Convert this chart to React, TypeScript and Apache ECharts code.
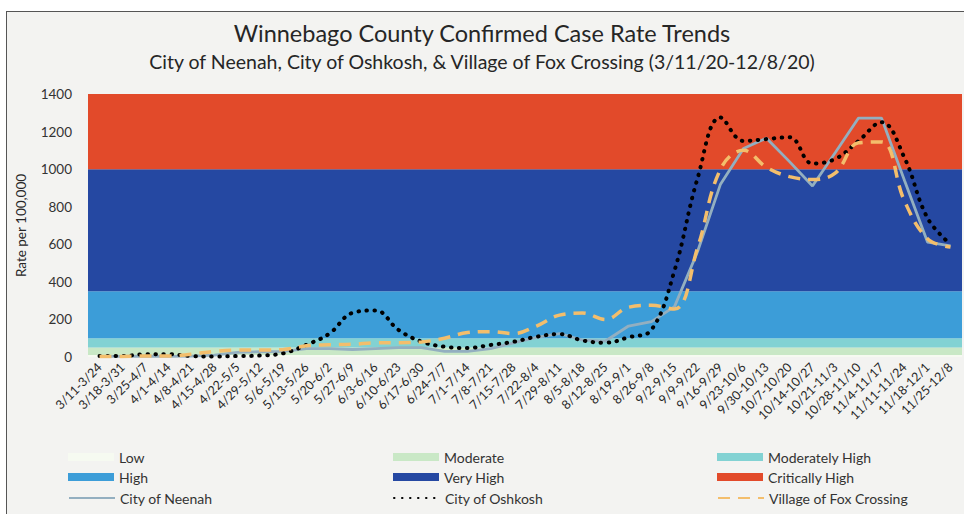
import React, { useEffect, useRef } from "react";
import * as echarts from "echarts";

const categories = [
  "3/11-3/24", "3/18-3/31", "3/25-4/7", "4/1-4/14", "4/8-4/21", "4/15-4/28",
  "4/22-5/5", "4/29-5/12", "5/6-5/19", "5/13-5/26", "5/20-6/2", "5/27-6/9",
  "6/3-6/16", "6/10-6/23", "6/17-6/30", "6/24-7/7", "7/1-7/14", "7/8-7/21",
  "7/15-7/28", "7/22-8/4", "7/29-8/11", "8/5-8/18", "8/12-8/25", "8/19-9/1",
  "8/26-9/8", "9/2-9/15", "9/9-9/22", "9/16-9/29", "9/23-10/6", "9/30-10/13",
  "10/7-10/20", "10/14-10/27", "10/21-11/3", "10/28-11/10", "11/4-11/17",
  "11/11-11/24", "11/18-12/1", "11/25-12/8",
];

const neenah = [
  3, 3, 5, 3, 5, 10, 25, 28, 30, 45, 45, 40, 45, 50, 50, 30, 30, 45, 75, 105,
  125, 90, 85, 165, 188, 268, 560, 920, 1110, 1165, 1040, 910, 1090, 1272, 1272,
  940, 612, 591,
];

const oshkosh = [
  5, 5, 15, 15, 5, 3, 5, 8, 20, 65, 125, 235, 248, 144, 82, 55, 48, 64, 81, 108,
  122, 88, 76, 105, 145, 460, 950, 1275, 1150, 1160, 1170, 1030, 1055, 1150, 1250,
  1060, 740, 600,
];

const foxCrossing = [
  3, 3, 5, 5, 15, 30, 37, 37, 40, 60, 65, 68, 75, 76, 80, 100, 130, 135, 125, 165,
  223, 234, 200, 265, 275, 255, 580, 1000, 1100, 1010, 960, 945, 980, 1140, 1145,
  830, 630, 585,
];

const bandNames = ["Low", "Moderate", "Moderately High", "High", "Very High", "Critically High"];
const bandFrom = [0, 10, 50, 100, 350, 1000];
const bandTo = [10, 50, 100, 350, 1000, 1400];
const bandColors = ["#F6FAF1", "#C9E8C6", "#82D2D3", "#3C9DD8", "#2548A2", "#E24A2A"];

const yTicks = [0, 200, 400, 600, 800, 1000, 1200, 1400];

const FONT = "Lato, 'Open Sans', sans-serif";

export default function App() {
  const ref = useRef<HTMLDivElement>(null);

  useEffect(() => {
    if (!ref.current) return;
    const chart = echarts.init(ref.current, undefined, { renderer: "svg" });

    const legendCols = [68, 393, 717];
    const legendRows = [450, 470, 491];
    const legendNames = [
      "Low", "Moderate", "Moderately High",
      "High", "Very High", "Critically High",
      "City of Neenah", "City of Oshkosh", "Village of Fox Crossing",
    ];
    const legends = legendNames.map((name, i) => {
      const lg: any = {
        data: i < 6 ? [{ name, icon: "rect" }] : [name],
        left: legendCols[i % 3],
        top: legendRows[Math.floor(i / 3)],
        itemWidth: 46,
        itemHeight: 8,
        padding: 0,
        selectedMode: false,
        textStyle: { fontSize: 14, color: "#333", fontFamily: FONT },
      };
      if (i >= 6) lg.itemStyle = { opacity: 0 };
      return lg;
    });

    const bandSeries = bandNames.map((name, i) => ({
      name,
      type: "bar",
      data: [],
      itemStyle: { color: bandColors[i] },
    }));

    chart.setOption({
      animation: false,
      textStyle: { fontFamily: FONT },
      title: [
        {
          text: "Winnebago County Confirmed Case Rate Trends",
          left: "center",
          top: 16,
          textStyle: { fontSize: 23.5, fontWeight: "normal", color: "#262626", fontFamily: FONT },
        },
        {
          text: "City of Neenah, City of Oshkosh, & Village of Fox Crossing (3/11/20-12/8/20)",
          left: "center",
          top: 46,
          textStyle: { fontSize: 19.5, fontWeight: "normal", color: "#262626", fontFamily: FONT },
        },
      ],
      legend: legends,
      grid: { left: 88, right: 2, top: 94, bottom: 157 },
      xAxis: {
        type: "category",
        data: categories,
        boundaryGap: true,
        axisLine: { show: false },
        axisTick: { show: false },
        axisLabel: {
          interval: 0,
          rotate: 45,
          fontSize: 12.5,
          color: "#262626",
          margin: 8,
          fontFamily: FONT,
        },
      },
      yAxis: {
        type: "value",
        min: 0,
        max: 1400,
        interval: 200,
        name: "Rate per 100,000",
        nameLocation: "middle",
        nameGap: 60,
        nameTextStyle: { fontSize: 13.5, color: "#262626", fontFamily: FONT },
        axisLine: { show: false },
        axisTick: { show: false },
        splitLine: { show: false },
        axisLabel: {
          fontSize: 13.5,
          color: "#333",
          margin: 16,
          fontFamily: FONT,
          formatter: (v: number) => (yTicks.includes(v) ? String(v) : ""),
        },
      },
      series: [
        ...bandSeries,
        {
          name: "bands",
          type: "line",
          data: categories.map(() => null),
          symbol: "none",
          z: 1,
          silent: true,
          markArea: {
            silent: true,
            data: bandNames.map((_, i) => [
              { yAxis: bandFrom[i], itemStyle: { color: bandColors[i] } },
              { yAxis: bandTo[i] },
            ]),
          },
        },
        {
          name: "City of Neenah",
          type: "line",
          data: neenah,
          symbol: "none",
          z: 3,
          itemStyle: { color: "#93AFC0" },
          lineStyle: { color: "#93AFC0", width: 2.8 },
        },
        {
          name: "City of Oshkosh",
          type: "line",
          data: oshkosh,
          symbol: "none",
          smooth: 0.4,
          z: 4,
          itemStyle: { color: "#000" },
          lineStyle: { color: "#000", width: 4, type: [0.5, 7.5], cap: "round" },
        },
        {
          name: "Village of Fox Crossing",
          type: "line",
          data: foxCrossing,
          symbol: "none",
          smooth: 0.4,
          z: 5,
          itemStyle: { color: "#F3BE6C" },
          lineStyle: { color: "#F3BE6C", width: 3.5, type: [12, 8] },
        },
      ],
    });

    return () => chart.dispose();
  }, []);

  return (
    <div style={{ position: "fixed", left: 0, top: 0, width: 964, height: 514, background: "#fff", overflow: "hidden" }}>
      <div
        style={{
          position: "absolute",
          left: 6,
          top: 11,
          width: 1000,
          height: 600,
          background: "#F3F3F1",
          borderLeft: "1.5px solid #555",
          borderTop: "1.5px solid #555",
        }}
      />
      <div ref={ref} style={{ position: "absolute", left: 0, top: 0, width: 964, height: 514 }} />
    </div>
  );
}
